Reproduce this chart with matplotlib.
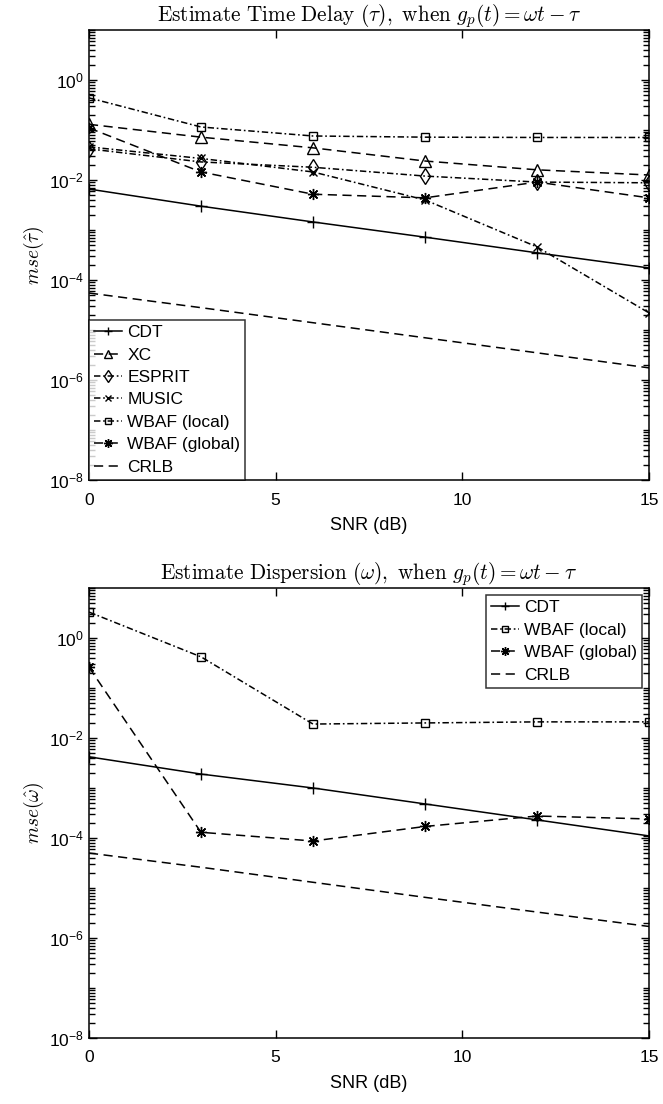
import numpy as np
import matplotlib
matplotlib.use("Agg")
import matplotlib.pyplot as plt
from matplotlib.ticker import FixedLocator, FuncFormatter, NullFormatter

plt.rcParams['font.family'] = ['Liberation Sans', 'DejaVu Sans']
plt.rcParams['mathtext.fontset'] = 'cm'

snr = [0, 3, 6, 9, 12, 15]

# Top panel: time delay estimation MSE
tau_cdt = [0.0066, 0.0030, 0.00145, 0.00072, 0.00035, 0.000174]
tau_xc = [0.13, 0.072, 0.044, 0.024, 0.016, 0.0126]
tau_esprit = [0.042, 0.023, 0.018, 0.012, 0.0091, 0.0088]
tau_music = [0.046, 0.027, 0.0145, 0.0040, 0.00046, 0.000022]
tau_wbaf_local = [0.44, 0.115, 0.076, 0.072, 0.071, 0.071]
tau_wbaf_global = [0.11, 0.0145, 0.0052, 0.0044, 0.0091, 0.0044]
tau_crlb = [5.5e-5, 2.8e-5, 1.4e-5, 7.0e-6, 3.5e-6, 1.75e-6]

# Bottom panel: dispersion estimation MSE
om_cdt = [0.0042, 0.0019, 0.0010, 0.00048, 0.00023, 0.00011]
om_wbaf_local = [3.3, 0.42, 0.019, 0.020, 0.021, 0.021]
om_wbaf_global = [0.26, 0.00013, 0.000087, 0.00017, 0.000275, 0.00024]
om_crlb = [5.0e-5, 2.6e-5, 1.3e-5, 6.5e-6, 3.3e-6, 1.7e-6]

asterisk = (8, 2, 0)
lw = 1.1
DASH = (0, (6.0, 3.6))
DASHDOT = (0, (4.2, 1.8, 1.1, 1.8))

fig = plt.figure(figsize=(6.63, 11.04), dpi=100)
ax1 = fig.add_axes([0.1342, 0.5652, 0.8447, 0.4076])
ax2 = fig.add_axes([0.1342, 0.0598, 0.8447, 0.4076])

minor_pos = [s * 10.0 ** k for k in range(-8, 1) for s in range(1, 10)] + [10.0]

def style(ax):
    ax.set_yscale('log')
    ax.set_xlim(0, 15)
    ax.set_ylim(1e-8, 1e1)
    ax.xaxis.set_major_locator(FixedLocator([0, 5, 10, 15]))
    ax.yaxis.set_major_locator(FixedLocator([1e-8, 1e-6, 1e-4, 1e-2, 1e0]))
    ax.yaxis.set_minor_locator(FixedLocator(minor_pos))
    ax.yaxis.set_minor_formatter(NullFormatter())
    ax.yaxis.set_major_formatter(FuncFormatter(lambda v, p: r'$\mathdefault{10^{%d}}$' % int(round(np.log10(v)))))
    ax.tick_params(which='both', direction='in', top=True, right=True, labelsize=12.5, width=1.0)
    ax.tick_params(which='major', length=6)
    ax.tick_params(which='minor', length=4)
    ax.tick_params(axis='x', pad=9)
    for s in ax.spines.values():
        s.set_linewidth(1.1)
    ax.set_xlabel('SNR (dB)', fontsize=13, labelpad=7)

mfc = 'none'
ax1.plot(snr, tau_cdt, linestyle='-', color='k', lw=lw, marker='+', ms=8, label='CDT')
ax1.plot(snr, tau_xc, linestyle=DASH, color='k', lw=lw, marker='^', ms=8, mfc=mfc, label='XC')
ax1.plot(snr, tau_esprit, linestyle=DASHDOT, color='k', lw=lw, marker='d', ms=8, mfc=mfc, label='ESPRIT')
ax1.plot(snr, tau_music, linestyle=DASHDOT, color='k', lw=lw, marker='x', ms=6, label='MUSIC')
ax1.plot(snr, tau_wbaf_local, linestyle=DASHDOT, color='k', lw=lw, marker='s', ms=6, mfc=mfc, label='WBAF (local)')
ax1.plot(snr, tau_wbaf_global, linestyle=DASH, color='k', lw=lw, marker=asterisk, ms=8, label='WBAF (global)')
ax1.plot(snr, tau_crlb, linestyle=DASH, color='k', lw=lw, label='CRLB')
style(ax1)
ax1.set_title(r'$\mathrm{Estimate\ Time\ Delay\ }(\tau)\mathrm{,\ when\ }g_p(t)=\omega t-\tau$', fontsize=15.3, pad=3)
ax1.set_ylabel(r'$mse(\hat{\tau})$', fontsize=14, labelpad=2)
leg1 = ax1.legend(loc='lower left', fontsize=12.5, frameon=True, fancybox=False, edgecolor='k',
                  borderaxespad=0, handlelength=1.6, handletextpad=0.3, labelspacing=0.42,
                  borderpad=0.3, markerscale=0.8)
leg1.get_frame().set_linewidth(1.1)

ax2.plot(snr, om_cdt, linestyle='-', color='k', lw=lw, marker='+', ms=8, label='CDT')
ax2.plot(snr, om_wbaf_local, linestyle=DASHDOT, color='k', lw=lw, marker='s', ms=6, mfc=mfc, label='WBAF (local)')
ax2.plot(snr, om_wbaf_global, linestyle=DASH, color='k', lw=lw, marker=asterisk, ms=8, label='WBAF (global)')
ax2.plot(snr, om_crlb, linestyle=DASH, color='k', lw=lw, label='CRLB')
style(ax2)
ax2.set_title(r'$\mathrm{Estimate\ Dispersion\ }(\omega)\mathrm{,\ when\ }g_p(t)=\omega t-\tau$', fontsize=15.3, pad=3)
ax2.set_ylabel(r'$mse(\hat{\omega})$', fontsize=14, labelpad=2)
leg2 = ax2.legend(loc='upper right', fontsize=12.5, frameon=True, fancybox=False, edgecolor='k',
                  borderaxespad=0.4, handlelength=1.6, handletextpad=0.3, labelspacing=0.42,
                  borderpad=0.3, markerscale=0.8)
leg2.get_frame().set_linewidth(1.1)

fig.savefig('out.png', dpi=100)
